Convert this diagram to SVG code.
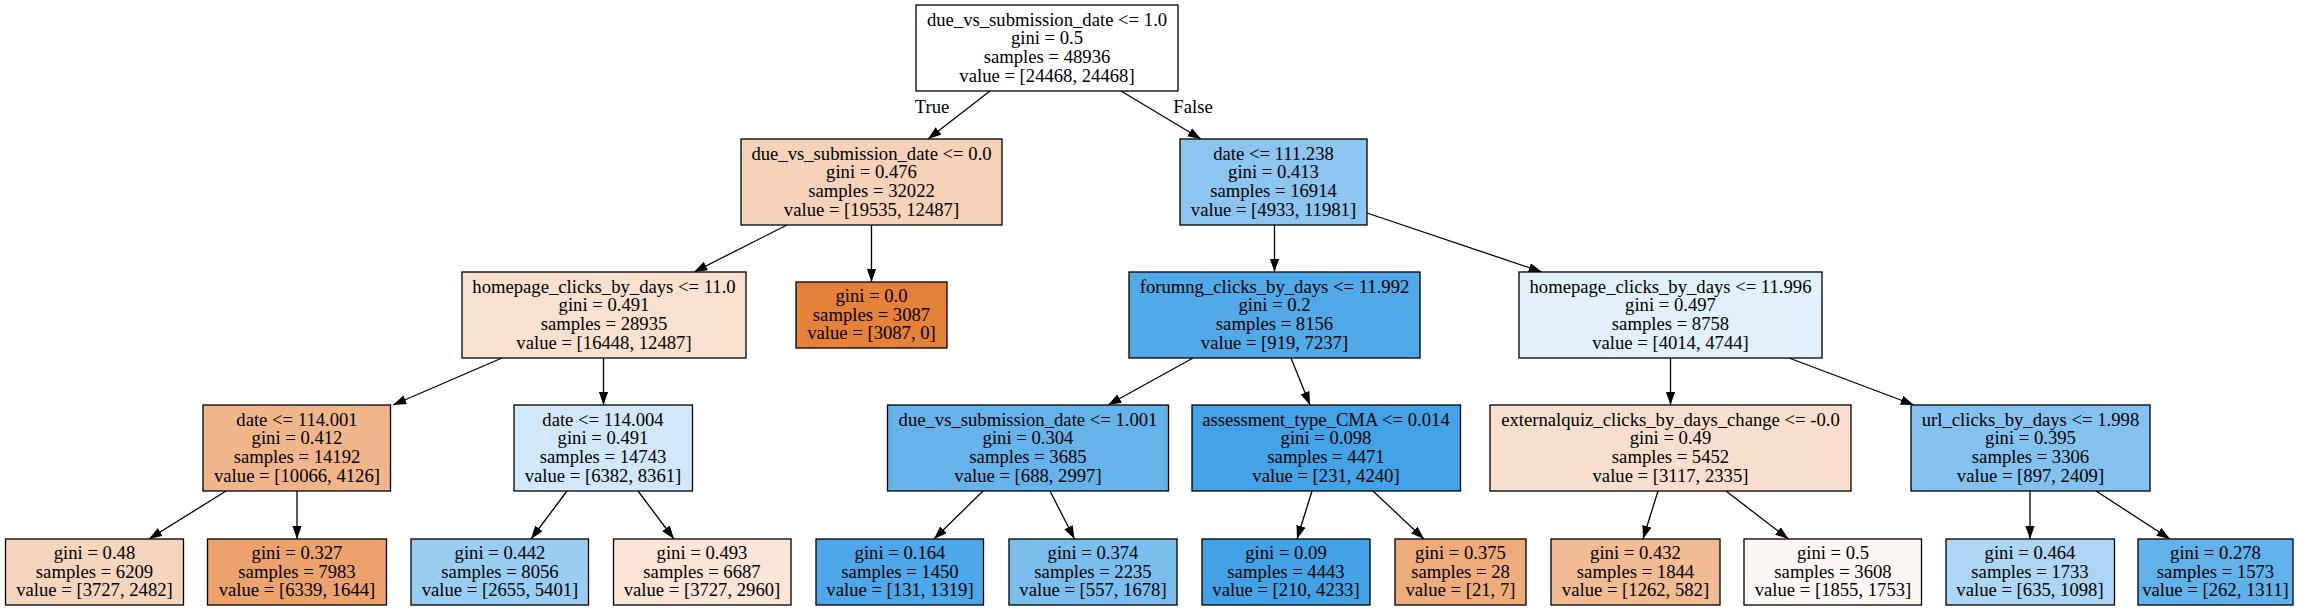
<svg xmlns="http://www.w3.org/2000/svg" width="2312" height="611" viewBox="0 0 2312 611">
<defs>
<marker id="ah" markerUnits="userSpaceOnUse" markerWidth="14" markerHeight="10" refX="13.3" refY="4.7" orient="auto"><path d="M0,0 L13.3,4.7 L0,9.4 z" fill="#000"/></marker>
</defs>
<style>
rect{stroke:#000;stroke-width:1.3}
text{font-family:"Liberation Serif","Times New Roman",serif;font-size:18.67px;fill:#000;text-anchor:middle}
.e line{stroke:#000;stroke-width:1.3;marker-end:url(#ah)}
</style>
<rect x="0" y="0" width="2312" height="611" fill="#fff" style="stroke:none"/>
<g id="connectors" class="e">
<line x1="990" y1="91" x2="928" y2="139"/>
<line x1="1121" y1="91" x2="1201" y2="139"/>
<line x1="787" y1="225" x2="694" y2="272"/>
<line x1="871.5" y1="225" x2="871.5" y2="282"/>
<line x1="1274.5" y1="225" x2="1274.5" y2="272"/>
<line x1="1367" y1="213" x2="1542" y2="272"/>
<line x1="502" y1="358" x2="393" y2="405"/>
<line x1="603.5" y1="358" x2="603.5" y2="405"/>
<line x1="1193" y1="358" x2="1108" y2="405"/>
<line x1="1291" y1="358" x2="1310" y2="405"/>
<line x1="1670.5" y1="358" x2="1670.5" y2="405"/>
<line x1="1789" y1="358" x2="1914" y2="405"/>
<line x1="226" y1="491" x2="149" y2="539"/>
<line x1="297" y1="491" x2="297" y2="539"/>
<line x1="567" y1="491" x2="531" y2="539"/>
<line x1="638" y1="491" x2="674" y2="539"/>
<line x1="983" y1="491" x2="934" y2="539"/>
<line x1="1050" y1="491" x2="1074.5" y2="539"/>
<line x1="1312" y1="491" x2="1297" y2="539"/>
<line x1="1373" y1="491" x2="1424" y2="539"/>
<line x1="1658" y1="491" x2="1643" y2="539"/>
<line x1="1726" y1="491" x2="1788.5" y2="539"/>
<line x1="2030" y1="491" x2="2030" y2="539"/>
<line x1="2096" y1="491" x2="2170" y2="539"/>
<text x="932" y="112.5">True</text>
<text x="1193" y="112.5">False</text>
</g>
<g id="n0"><rect x="916" y="5" width="262" height="86" fill="#ffffff"/>
<text x="1047" y="25.7">due_vs_submission_date &lt;= 1.0</text><text x="1047" y="44.4">gini = 0.5</text><text x="1047" y="63">samples = 48936</text><text x="1047" y="81.7">value = [24468, 24468]</text></g>
<g id="n1"><rect x="741" y="139" width="261" height="86" fill="#f6d2b8"/>
<text x="871.5" y="159.7">due_vs_submission_date &lt;= 0.0</text><text x="871.5" y="178.4">gini = 0.476</text><text x="871.5" y="197">samples = 32022</text><text x="871.5" y="215.7">value = [19535, 12487]</text></g>
<g id="n2"><rect x="1180" y="139" width="187" height="86" fill="#8bc5f0"/>
<text x="1273.5" y="159.7">date &lt;= 111.238</text><text x="1273.5" y="178.4">gini = 0.413</text><text x="1273.5" y="197">samples = 16914</text><text x="1273.5" y="215.7">value = [4933, 11981]</text></g>
<g id="n3"><rect x="462" y="272" width="284" height="86" fill="#f9e1cf"/>
<text x="604" y="292.7">homepage_clicks_by_days &lt;= 11.0</text><text x="604" y="311.4">gini = 0.491</text><text x="604" y="330">samples = 28935</text><text x="604" y="348.7">value = [16448, 12487]</text></g>
<g id="n4"><rect x="796" y="282" width="151" height="66" fill="#e58139"/>
<text x="871.5" y="302">gini = 0.0</text><text x="871.5" y="320.7">samples = 3087</text><text x="871.5" y="339.4">value = [3087, 0]</text></g>
<g id="n5"><rect x="1129" y="272" width="291" height="86" fill="#52a9e8"/>
<text x="1274.5" y="292.7">forumng_clicks_by_days &lt;= 11.992</text><text x="1274.5" y="311.4">gini = 0.2</text><text x="1274.5" y="330">samples = 8156</text><text x="1274.5" y="348.7">value = [919, 7237]</text></g>
<g id="n6"><rect x="1519" y="272" width="303" height="86" fill="#e1f0fb"/>
<text x="1670.5" y="292.7">homepage_clicks_by_days &lt;= 11.996</text><text x="1670.5" y="311.4">gini = 0.497</text><text x="1670.5" y="330">samples = 8758</text><text x="1670.5" y="348.7">value = [4014, 4744]</text></g>
<g id="n7"><rect x="203" y="405" width="187.5" height="86" fill="#f0b58a"/>
<text x="297" y="425.7">date &lt;= 114.001</text><text x="297" y="444.4">gini = 0.412</text><text x="297" y="463">samples = 14192</text><text x="297" y="481.7">value = [10066, 4126]</text></g>
<g id="n8"><rect x="514" y="405" width="178.5" height="86" fill="#d0e8f9"/>
<text x="603" y="425.7">date &lt;= 114.004</text><text x="603" y="444.4">gini = 0.491</text><text x="603" y="463">samples = 14743</text><text x="603" y="481.7">value = [6382, 8361]</text></g>
<g id="n9"><rect x="887.5" y="405" width="281" height="86" fill="#66b3eb"/>
<text x="1028" y="425.7">due_vs_submission_date &lt;= 1.001</text><text x="1028" y="444.4">gini = 0.304</text><text x="1028" y="463">samples = 3685</text><text x="1028" y="481.7">value = [688, 2997]</text></g>
<g id="n10"><rect x="1192" y="405" width="268.5" height="86" fill="#44a2e6"/>
<text x="1326" y="425.7">assessment_type_CMA &lt;= 0.014</text><text x="1326" y="444.4">gini = 0.098</text><text x="1326" y="463">samples = 4471</text><text x="1326" y="481.7">value = [231, 4240]</text></g>
<g id="n11"><rect x="1490" y="405" width="361" height="86" fill="#f8dfcd"/>
<text x="1670.5" y="425.7">externalquiz_clicks_by_days_change &lt;= -0.0</text><text x="1670.5" y="444.4">gini = 0.49</text><text x="1670.5" y="463">samples = 5452</text><text x="1670.5" y="481.7">value = [3117, 2335]</text></g>
<g id="n12"><rect x="1911" y="405" width="239" height="86" fill="#83c1ef"/>
<text x="2030.5" y="425.7">url_clicks_by_days &lt;= 1.998</text><text x="2030.5" y="444.4">gini = 0.395</text><text x="2030.5" y="463">samples = 3306</text><text x="2030.5" y="481.7">value = [897, 2409]</text></g>
<g id="n13"><rect x="5.5" y="539" width="178" height="66" fill="#f6d5bd"/>
<text x="94.5" y="559">gini = 0.48</text><text x="94.5" y="577.7">samples = 6209</text><text x="94.5" y="596.4">value = [3727, 2482]</text></g>
<g id="n14"><rect x="207.5" y="539" width="179" height="66" fill="#eca26c"/>
<text x="297" y="559">gini = 0.327</text><text x="297" y="577.7">samples = 7983</text><text x="297" y="596.4">value = [6339, 1644]</text></g>
<g id="n15"><rect x="411" y="539" width="177.5" height="66" fill="#9acdf2"/>
<text x="500" y="559">gini = 0.442</text><text x="500" y="577.7">samples = 8056</text><text x="500" y="596.4">value = [2655, 5401]</text></g>
<g id="n16"><rect x="613.5" y="539" width="177.5" height="66" fill="#fae5d6"/>
<text x="702" y="559">gini = 0.493</text><text x="702" y="577.7">samples = 6687</text><text x="702" y="596.4">value = [3727, 2960]</text></g>
<g id="n17"><rect x="816" y="539" width="167.5" height="66" fill="#4da7e8"/>
<text x="900" y="559">gini = 0.164</text><text x="900" y="577.7">samples = 1450</text><text x="900" y="596.4">value = [131, 1319]</text></g>
<g id="n18"><rect x="1009" y="539" width="168" height="66" fill="#7bbeee"/>
<text x="1093" y="559">gini = 0.374</text><text x="1093" y="577.7">samples = 2235</text><text x="1093" y="596.4">value = [557, 1678]</text></g>
<g id="n19"><rect x="1202" y="539" width="168" height="66" fill="#43a2e6"/>
<text x="1286" y="559">gini = 0.09</text><text x="1286" y="577.7">samples = 4443</text><text x="1286" y="596.4">value = [210, 4233]</text></g>
<g id="n20"><rect x="1395" y="539" width="131" height="66" fill="#eeab7b"/>
<text x="1460.5" y="559">gini = 0.375</text><text x="1460.5" y="577.7">samples = 28</text><text x="1460.5" y="596.4">value = [21, 7]</text></g>
<g id="n21"><rect x="1551" y="539" width="169" height="66" fill="#f1bb94"/>
<text x="1635.5" y="559">gini = 0.432</text><text x="1635.5" y="577.7">samples = 1844</text><text x="1635.5" y="596.4">value = [1262, 582]</text></g>
<g id="n22"><rect x="1744" y="539" width="177.5" height="66" fill="#fef8f4"/>
<text x="1833" y="559">gini = 0.5</text><text x="1833" y="577.7">samples = 3608</text><text x="1833" y="596.4">value = [1855, 1753]</text></g>
<g id="n23"><rect x="1946" y="539" width="168.5" height="66" fill="#acd6f4"/>
<text x="2030" y="559">gini = 0.464</text><text x="2030" y="577.7">samples = 1733</text><text x="2030" y="596.4">value = [635, 1098]</text></g>
<g id="n24"><rect x="2138" y="539" width="155" height="66" fill="#61b1ea"/>
<text x="2215.5" y="559">gini = 0.278</text><text x="2215.5" y="577.7">samples = 1573</text><text x="2215.5" y="596.4">value = [262, 1311]</text></g>
</svg>
